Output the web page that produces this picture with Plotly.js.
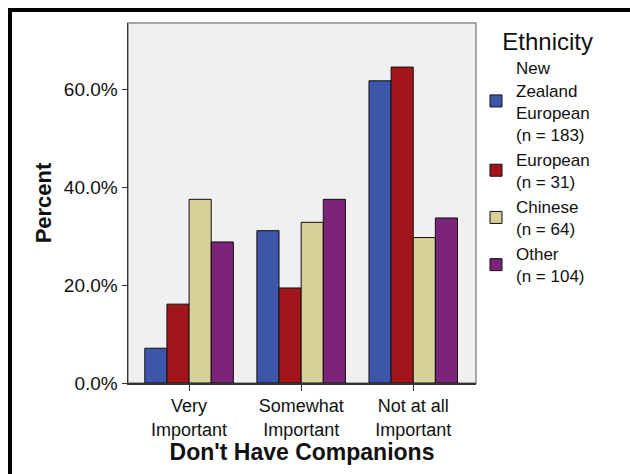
<!DOCTYPE html>
<html><head><meta charset="utf-8">
<script src="https://cdn.plot.ly/plotly-3.0.1.min.js"></script>
<style>
html,body{margin:0;padding:0;background:#fff;}
#wrap{position:relative;width:630px;height:474px;overflow:hidden;}
#chart{position:absolute;left:0;top:0;width:630px;height:474px;}
#frame{position:absolute;left:8px;top:8px;width:700px;height:600px;border:4px solid #000;pointer-events:none;}
</style></head><body>
<div id="wrap"><div id="chart"></div><div id="frame"></div></div>
<script>
const categories = ['Very<br>Important', 'Somewhat<br>Important', 'Not at all<br>Important'];
const seriesNames = ['New<br>Zealand<br>European<br>(n = 183)', 'European<br>(n = 31)', 'Chinese<br>(n = 64)', 'Other<br>(n = 104)'];
const nzEuropean = [7.1, 31.1, 61.7];
const european = [16.1, 19.4, 64.5];
const chinese = [37.5, 32.8, 29.7];
const other = [28.8, 37.5, 33.7];
const yTickVals = [0, 20, 40, 60];
const yTickText = ['0.0%', '20.0%', '40.0%', '60.0%'];
const colors = ['#3d56aa', '#a2151b', '#d5d199', '#7b247a'];

const seriesValues = [nzEuropean, european, chinese, other];
const traces = seriesValues.map((vals, i) => ({
  type: 'bar',
  x: categories,
  y: vals,
  name: seriesNames[i],
  marker: {color: colors[i], line: {color: '#111', width: 1}},
  hoverinfo: 'skip'
}));

const font = 'Liberation Sans, Arial, sans-serif';
const layout = {
  width: 630, height: 474,
  margin: {l: 128, r: 154, t: 23, b: 91, pad: 0},
  paper_bgcolor: '#ffffff',
  plot_bgcolor: '#f0f0f0',
  font: {family: font, size: 19, color: '#111'},
  barmode: 'group',
  bargap: 0.21,
  bargroupgap: 0,
  showlegend: true,
  legend: {
    x: 1.0, xanchor: 'left', y: 1.011, yanchor: 'top',
    maxheight: 1,
    font: {family: font, size: 17, color: '#111'},
    title: {text: 'Ethnicity', side: 'top right', font: {family: font, size: 24, color: '#111'}},
    bgcolor: 'rgba(0,0,0,0)', borderwidth: 0,
    traceorder: 'normal'
  },
  xaxis: {
    type: 'category',
    range: [-0.545, 2.56],
    showline: true, linecolor: '#333', linewidth: 1.5,
    ticks: 'outside', ticklen: 6, tickcolor: '#333', tickwidth: 1,
    showgrid: false, zeroline: false,
    tickfont: {family: font, size: 18, color: '#111'},
    title: {text: "Don't Have Companions", font: {family: font, size: 23, color: '#111', weight: 'bold'}, standoff: 0}
  },
  yaxis: {
    range: [0, 73.5],
    tickvals: yTickVals, ticktext: yTickText,
    showline: true, linecolor: '#333', linewidth: 1.5,
    ticks: 'outside', ticklen: 5, tickcolor: '#333', tickwidth: 1,
    showgrid: false, zeroline: false,
    tickfont: {family: font, size: 19, color: '#111'},
    title: {text: 'Percent', font: {family: font, size: 22, color: '#111', weight: 'bold'}, standoff: 6}
  },
  shapes: [{
    type: 'rect', xref: 'paper', yref: 'paper', x0: 0, x1: 1, y0: 0, y1: 1,
    line: {color: '#8a8a8a', width: 1.5}, layer: 'below'
  }]
};

Plotly.newPlot('chart', traces, layout, {displayModeBar: false, staticPlot: true});
</script>
</body></html>
